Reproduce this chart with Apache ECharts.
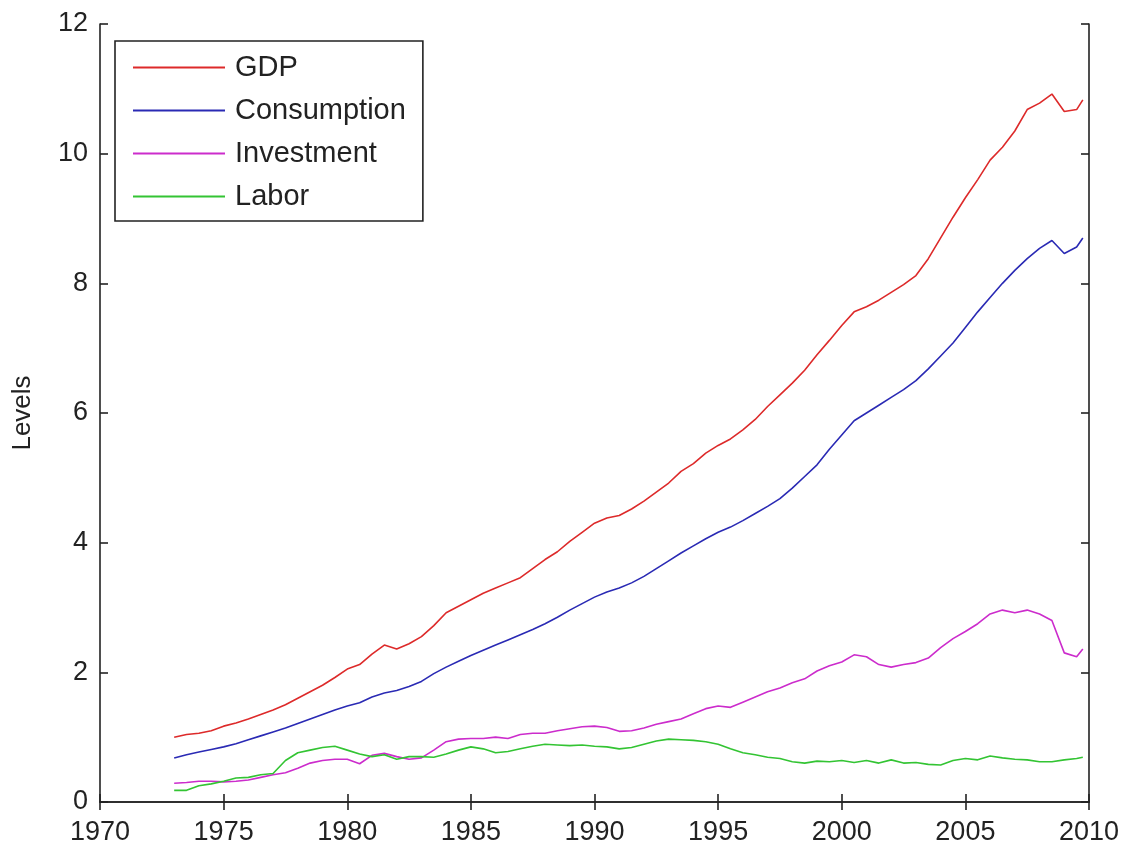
<!DOCTYPE html>
<html>
<head>
<meta charset="utf-8">
<title>Levels</title>
<script src="https://cdn.jsdelivr.net/npm/echarts@6/dist/echarts.min.js"></script>
<style>
  html, body { margin: 0; padding: 0; background: #ffffff; }
  #chart { width: 1125px; height: 846px; }
</style>
</head>
<body>
<div id="chart"></div>
<script>
// Sample dates (half-year steps, last point at the final quarter)
const years = [
  1973.0, 1973.5, 1974.0, 1974.5, 1975.0, 1975.5, 1976.0, 1976.5, 1977.0, 1977.5,
  1978.0, 1978.5, 1979.0, 1979.5, 1980.0, 1980.5, 1981.0, 1981.5, 1982.0, 1982.5,
  1983.0, 1983.5, 1984.0, 1984.5, 1985.0, 1985.5, 1986.0, 1986.5, 1987.0, 1987.5,
  1988.0, 1988.5, 1989.0, 1989.5, 1990.0, 1990.5, 1991.0, 1991.5, 1992.0, 1992.5,
  1993.0, 1993.5, 1994.0, 1994.5, 1995.0, 1995.5, 1996.0, 1996.5, 1997.0, 1997.5,
  1998.0, 1998.5, 1999.0, 1999.5, 2000.0, 2000.5, 2001.0, 2001.5, 2002.0, 2002.5,
  2003.0, 2003.5, 2004.0, 2004.5, 2005.0, 2005.5, 2006.0, 2006.5, 2007.0, 2007.5,
  2008.0, 2008.5, 2009.0, 2009.5, 2009.75
];

const gdp = [
  1.00, 1.04, 1.06, 1.10, 1.17, 1.22, 1.28, 1.35, 1.42, 1.50,
  1.60, 1.70, 1.80, 1.92, 2.05, 2.12, 2.28, 2.42, 2.36, 2.44,
  2.55, 2.72, 2.92, 3.02, 3.12, 3.22, 3.30, 3.38, 3.46, 3.60,
  3.74, 3.86, 4.02, 4.16, 4.30, 4.38, 4.42, 4.52, 4.64, 4.78,
  4.92, 5.10, 5.22, 5.38, 5.50, 5.60, 5.74, 5.90, 6.10, 6.28,
  6.46, 6.66, 6.90, 7.12, 7.35, 7.56, 7.64, 7.74, 7.86, 7.98,
  8.12, 8.38, 8.70, 9.02, 9.32, 9.60, 9.90, 10.10, 10.35, 10.68,
  10.78, 10.92, 10.65, 10.68, 10.83
];

const consumption = [
  0.68, 0.73, 0.77, 0.81, 0.85, 0.90, 0.96, 1.02, 1.08, 1.14,
  1.21, 1.28, 1.35, 1.42, 1.48, 1.53, 1.62, 1.68, 1.72, 1.78,
  1.86, 1.98, 2.08, 2.17, 2.26, 2.34, 2.42, 2.50, 2.58, 2.66,
  2.75, 2.85, 2.96, 3.06, 3.16, 3.24, 3.30, 3.38, 3.48, 3.60,
  3.72, 3.84, 3.95, 4.06, 4.16, 4.24, 4.34, 4.45, 4.56, 4.68,
  4.84, 5.02, 5.20, 5.44, 5.66, 5.88, 6.00, 6.12, 6.24, 6.36,
  6.50, 6.68, 6.88, 7.08, 7.32, 7.56, 7.78, 8.00, 8.20, 8.38,
  8.54, 8.66, 8.46, 8.56, 8.70
];

const investment = [
  0.29, 0.30, 0.32, 0.32, 0.31, 0.32, 0.34, 0.38, 0.42, 0.45,
  0.52, 0.60, 0.64, 0.66, 0.66, 0.59, 0.72, 0.75, 0.70, 0.66,
  0.68, 0.80, 0.93, 0.97, 0.98, 0.98, 1.00, 0.98, 1.04, 1.06,
  1.06, 1.10, 1.13, 1.16, 1.17, 1.15, 1.09, 1.10, 1.14, 1.20,
  1.24, 1.28, 1.36, 1.44, 1.48, 1.46, 1.54, 1.62, 1.70, 1.76,
  1.84, 1.90, 2.02, 2.10, 2.16, 2.27, 2.24, 2.12, 2.08, 2.12,
  2.15, 2.22, 2.38, 2.52, 2.63, 2.75, 2.90, 2.96, 2.92, 2.96,
  2.90, 2.80, 2.30, 2.24, 2.36
];

const labor = [
  0.18, 0.18, 0.25, 0.28, 0.32, 0.37, 0.38, 0.42, 0.44, 0.64,
  0.76, 0.80, 0.84, 0.86, 0.80, 0.74, 0.70, 0.73, 0.66, 0.70,
  0.70, 0.69, 0.74, 0.80, 0.85, 0.82, 0.76, 0.78, 0.82, 0.86,
  0.89, 0.88, 0.87, 0.88, 0.86, 0.85, 0.82, 0.84, 0.89, 0.94,
  0.97, 0.96, 0.95, 0.93, 0.89, 0.82, 0.76, 0.73, 0.69, 0.67,
  0.62, 0.60, 0.63, 0.62, 0.64, 0.61, 0.64, 0.60, 0.65, 0.60,
  0.61, 0.58, 0.57, 0.64, 0.67, 0.65, 0.71, 0.68, 0.66, 0.65,
  0.62, 0.62, 0.65, 0.67, 0.69
];

const seriesNames = ['GDP', 'Consumption', 'Investment', 'Labor'];
const seriesValues = [gdp, consumption, investment, labor];
const seriesColors = ['#dd2a2a', '#2a2ab4', '#cc2ccc', '#33c433'];

const xTickLabels = ['1970', '1975', '1980', '1985', '1990', '1995', '2000', '2005', '2010'];
const yTickLabels = ['0', '2', '4', '6', '8', '10', '12'];

const FONT = '"Liberation Sans", Arial, Helvetica, sans-serif';
const AXIS_COLOR = '#222222';

function pairUp(values) {
  return years.map((y, i) => [y, values[i]]);
}

const chart = echarts.init(document.getElementById('chart'), null, { renderer: 'canvas' });

const lineAxis = {
  show: true,
  lineStyle: { color: AXIS_COLOR, width: 1.6 }
};
const tickIn = {
  show: true,
  inside: true,
  length: 8,
  lineStyle: { color: AXIS_COLOR, width: 1.6 }
};

const xMin = Number(xTickLabels[0]);
const xMax = Number(xTickLabels[xTickLabels.length - 1]);
const yMin = Number(yTickLabels[0]);
const yMax = Number(yTickLabels[yTickLabels.length - 1]);

const option = {
  backgroundColor: '#ffffff',
  animation: false,
  grid: { left: 100, right: 36, top: 24, bottom: 43, containLabel: false },
  legend: {
    show: true,
    orient: 'vertical',
    left: 115,
    top: 41,
    data: seriesNames,
    icon: 'rect',
    itemWidth: 92,
    itemHeight: 2,
    itemGap: 14,
    padding: [12, 17, 10, 18],
    borderColor: AXIS_COLOR,
    borderWidth: 1.6,
    backgroundColor: '#ffffff',
    selectedMode: false,
    textStyle: {
      fontFamily: FONT,
      fontSize: 29,
      color: '#222222',
      padding: [0, 0, 0, 5],
      lineHeight: 29
    }
  },
  xAxis: [
    {
      type: 'value',
      min: xMin,
      max: xMax,
      interval: 5,
      position: 'bottom',
      axisLine: lineAxis,
      axisTick: tickIn,
      splitLine: { show: false },
      axisLabel: {
        show: true,
        margin: 17,
        fontFamily: FONT,
        fontSize: 27,
        color: '#222222',
        formatter: v => xTickLabels[Math.round((v - xMin) / 5)] || ''
      }
    },
    {
      type: 'value',
      min: xMin,
      max: xMax,
      interval: 5,
      position: 'top',
      axisLine: lineAxis,
      axisTick: tickIn,
      splitLine: { show: false },
      axisLabel: { show: false }
    }
  ],
  yAxis: [
    {
      type: 'value',
      min: yMin,
      max: yMax,
      interval: 2,
      position: 'left',
      name: 'Levels',
      nameLocation: 'middle',
      nameRotate: 90,
      nameGap: 64,
      nameTextStyle: { fontFamily: FONT, fontSize: 26, color: '#222222' },
      axisLine: lineAxis,
      axisTick: tickIn,
      splitLine: { show: false },
      axisLabel: {
        show: true,
        margin: 12,
        fontFamily: FONT,
        fontSize: 27,
        color: '#222222',
        formatter: v => yTickLabels[Math.round((v - yMin) / 2)] || ''
      }
    },
    {
      type: 'value',
      min: yMin,
      max: yMax,
      interval: 2,
      position: 'right',
      axisLine: lineAxis,
      axisTick: tickIn,
      splitLine: { show: false },
      axisLabel: { show: false }
    }
  ],
  series: seriesNames.map((name, i) => ({
    name: name,
    type: 'line',
    xAxisIndex: 0,
    yAxisIndex: 0,
    data: pairUp(seriesValues[i]),
    showSymbol: false,
    symbol: 'none',
    smooth: false,
    color: seriesColors[i],
    lineStyle: { color: seriesColors[i], width: 1.6 },
    emphasis: { disabled: true }
  }))
};

chart.setOption(option);
</script>
</body>
</html>
